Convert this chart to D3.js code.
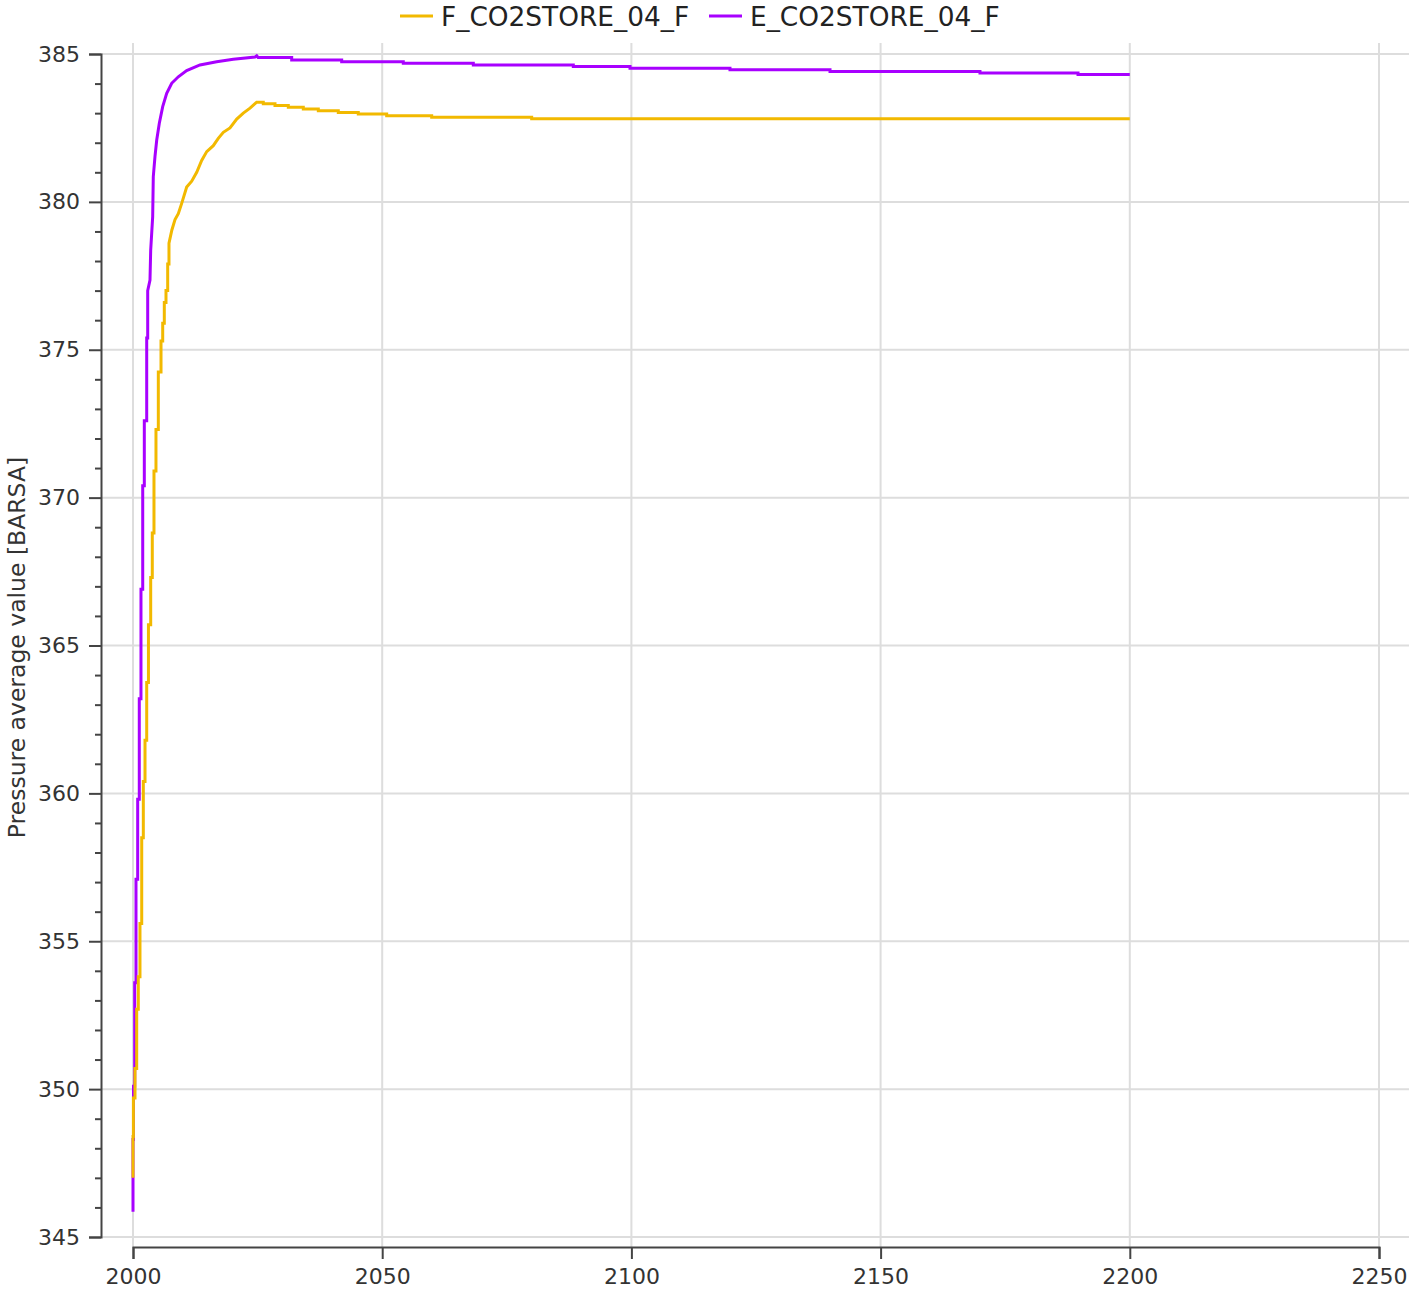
<!DOCTYPE html>
<html>
<head>
<meta charset="utf-8">
<script src="https://cdn.jsdelivr.net/npm/d3@7"></script>
<style>
  html, body { margin: 0; padding: 0; background: #fff; }
  svg { display: block; font-family: "DejaVu Sans", sans-serif; }
</style>
</head>
<body>
<svg id="chart" width="1409" height="1293"></svg>
<script>
// series names (legend order)
const seriesNames = ["F_CO2STORE_04_F", "E_CO2STORE_04_F"];
const seriesColors = ["#f2b900", "#a800ff"];

// F_CO2STORE_04_F : years / pressure (barsa)
const fYears = [
  2000.0, 2000.0, 2000.08, 2000.08, 2000.4, 2000.4, 2000.74, 2000.74, 2001.06, 2001.06,
  2001.4, 2001.4, 2001.75, 2001.75, 2002.07, 2002.07, 2002.41, 2002.41, 2002.75, 2002.75,
  2003.1, 2003.1, 2003.55, 2003.55, 2003.87, 2003.87, 2004.21, 2004.21, 2004.61, 2004.61,
  2005.08, 2005.08, 2005.62, 2005.62, 2005.96, 2005.96, 2006.28, 2006.28, 2006.62, 2006.62,
  2006.96, 2006.96, 2007.22, 2007.22, 2007.8, 2008.43, 2009.09, 2009.77, 2010.77, 2011.78,
  2012.78, 2013.78, 2014.79, 2016.11, 2017.11, 2018.12, 2019.46, 2020.81, 2022.13, 2023.48,
  2024.82, 2026.14, 2026.14, 2028.49, 2028.49, 2031.16, 2031.16, 2034.17, 2034.17, 2037.18,
  2037.18, 2041.19, 2041.19, 2045.2, 2045.2, 2050.9, 2050.9, 2059.93, 2059.93, 2079.99,
  2079.99, 2200
];
const fValues = [
  347.0, 348.4, 348.4, 349.7, 349.7, 350.7, 350.7, 352.7, 352.7, 353.8,
  353.8, 355.6, 355.6, 358.5, 358.5, 360.4, 360.4, 361.8, 361.8, 363.75,
  363.75, 365.7, 365.7, 367.3, 367.3, 368.8, 368.8, 370.9, 370.9, 372.3,
  372.3, 374.25, 374.25, 375.3, 375.3, 375.9, 375.9, 376.6, 376.6, 377.0,
  377.0, 377.9, 377.9, 378.6, 379.05, 379.4, 379.6, 379.95, 380.5, 380.7,
  381.0, 381.4, 381.7, 381.9, 382.15, 382.35, 382.5, 382.8, 383.0, 383.17,
  383.37, 383.37, 383.32, 383.32, 383.26, 383.26, 383.2, 383.2, 383.14, 383.14,
  383.08, 383.08, 383.02, 383.02, 382.97, 382.97, 382.91, 382.91, 382.86, 382.86,
  382.81, 382.81
];

// E_CO2STORE_04_F : years / pressure (barsa)
const eYears = [
  2000.0, 2000.0, 2000.1, 2000.1, 2000.34, 2000.34, 2000.6, 2000.6, 2000.94, 2000.94,
  2001.26, 2001.26, 2001.6, 2001.6, 2001.95, 2001.95, 2002.27, 2002.27, 2002.75, 2002.75,
  2002.95, 2002.95, 2003.41, 2003.55, 2003.95, 2004.07, 2004.41, 2004.76, 2005.28, 2005.96,
  2006.76, 2007.76, 2009.09, 2010.77, 2013.44, 2016.79, 2020.12, 2024.5, 2024.82, 2025.1,
  2031.84, 2031.84, 2041.87, 2041.87, 2054.23, 2054.23, 2068.28, 2068.28, 2088.34, 2088.34,
  2099.72, 2099.72, 2119.78, 2119.78, 2139.85, 2139.85, 2169.94, 2169.94, 2189.61, 2189.61,
  2200
];
const eValues = [
  345.85, 348.3, 348.3, 350.1, 350.1, 353.6, 353.6, 357.1, 357.1, 359.8,
  359.8, 363.2, 363.2, 366.9, 366.9, 370.4, 370.4, 372.6, 372.6, 375.4,
  375.4, 377.0, 377.36, 378.37, 379.5, 380.85, 381.53, 382.09, 382.66, 383.22,
  383.67, 384.01, 384.23, 384.44, 384.63, 384.74, 384.82, 384.9, 384.94, 384.88,
  384.88, 384.8, 384.8, 384.74, 384.74, 384.69, 384.69, 384.63, 384.63, 384.58,
  384.58, 384.52, 384.52, 384.47, 384.47, 384.41, 384.41, 384.36, 384.36, 384.31,
  384.31
];

const xTicks = [2000, 2050, 2100, 2150, 2200, 2250];
const yTicks = [345, 350, 355, 360, 365, 370, 375, 380, 385];
const yLabel = "Pressure average value [BARSA]";

const width = 1409, height = 1293;
const plot = { left: 101, right: 1409, top: 43, bottom: 1247 };

const svg = d3.select("#chart");

const x = d3.scaleLinear().domain([2000, 2250]).range([133, 1379]);
const y = d3.scaleLinear().domain([345, 385]).range([1237, 54]);

// grid
const grid = svg.append("g").attr("class", "grid");
grid.selectAll("line.v")
  .data(xTicks)
  .join("line")
  .attr("class", "v")
  .attr("x1", d => x(d)).attr("x2", d => x(d))
  .attr("y1", plot.top).attr("y2", plot.bottom)
  .attr("stroke", "#dddddd").attr("stroke-width", 2);
grid.selectAll("line.h")
  .data(yTicks)
  .join("line")
  .attr("class", "h")
  .attr("y1", d => y(d)).attr("y2", d => y(d))
  .attr("x1", plot.left).attr("x2", plot.right)
  .attr("stroke", "#dddddd").attr("stroke-width", 2);

// axes
function styleAxis(g) {
  g.selectAll("path.domain").attr("stroke", "#444").attr("stroke-width", 2);
  g.selectAll(".tick line").attr("stroke", "#444").attr("stroke-width", 2);
  g.selectAll(".tick text")
    .attr("fill", "#333")
    .style("font-family", "'DejaVu Sans', sans-serif")
    .style("font-size", "22px");
}

const xAxis = svg.append("g")
  .attr("transform", `translate(0,${plot.bottom})`)
  .call(d3.axisBottom(x).tickValues(xTicks).tickFormat(d3.format("d"))
    .tickSize(12).tickSizeOuter(12).tickPadding(9));
styleAxis(xAxis);

// minor y ticks every 1 bar
const minorTicks = d3.range(345, 386, 1).filter(d => d % 5 !== 0);
svg.append("g")
  .attr("transform", `translate(${plot.left},0)`)
  .call(d3.axisLeft(y).tickValues(minorTicks).tickFormat("").tickSize(6).tickSizeOuter(0))
  .call(g => g.select("path.domain").remove())
  .call(styleAxis);

const yAxis = svg.append("g")
  .attr("transform", `translate(${plot.left},0)`)
  .call(d3.axisLeft(y).tickValues(yTicks).tickFormat(d3.format("d"))
    .tickSize(12).tickSizeOuter(12).tickPadding(9));
styleAxis(yAxis);

svg.append("text")
  .attr("transform", `translate(25,${(y(345) + y(385)) / 2 + 2}) rotate(-90)`)
  .attr("text-anchor", "middle")
  .attr("fill", "#333")
  .style("font-size", "23.5px")
  .text(yLabel);

// lines
const line = d3.line()
  .x(d => x(d[0]))
  .y(d => y(d[1]))
  .curve(d3.curveLinear);

const series = [
  { name: seriesNames[1], color: seriesColors[1], pts: d3.zip(eYears, eValues) },
  { name: seriesNames[0], color: seriesColors[0], pts: d3.zip(fYears, fValues) }
];

svg.append("g")
  .selectAll("path")
  .data(series)
  .join("path")
  .attr("fill", "none")
  .attr("stroke", d => d.color)
  .attr("stroke-width", 3)
  .attr("stroke-linejoin", "miter")
  .attr("d", d => line(d.pts));

// legend
const legendX = [400, 709];
const legend = svg.append("g");
seriesNames.forEach((name, i) => {
  legend.append("line")
    .attr("x1", legendX[i]).attr("x2", legendX[i] + 33)
    .attr("y1", 16).attr("y2", 16)
    .attr("stroke", seriesColors[i]).attr("stroke-width", 3);
  legend.append("text")
    .attr("x", legendX[i] + 41)
    .attr("y", 26)
    .attr("fill", "#222")
    .style("font-size", "26.4px")
    .text(name);
});
</script>
</body>
</html>
